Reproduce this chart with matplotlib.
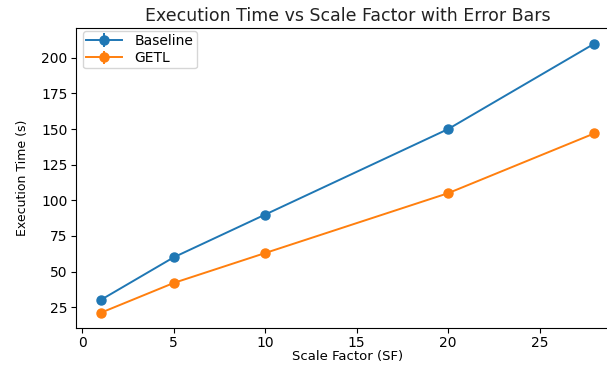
import matplotlib
matplotlib.use("Agg")
import matplotlib.pyplot as plt

scale_factors = [1, 5, 10, 20, 28]
baseline = [30, 60, 90, 150, 210]
baseline_err = [1.5, 1.5, 1.5, 1.5, 1.5]
getl = [21, 42, 63, 105, 147]
getl_err = [1.0, 1.0, 1.0, 1.0, 1.0]

fig = plt.figure(figsize=(6.07, 3.66), dpi=100)
ax = fig.add_axes([0.125, 0.104, 0.895, 0.82])

ax.errorbar(scale_factors, baseline, yerr=baseline_err, fmt='-o', color='#1f77b4',
            markersize=6.5, linewidth=1.4, label='Baseline')
ax.errorbar(scale_factors, getl, yerr=getl_err, fmt='-o', color='#ff7f0e',
            markersize=6.5, linewidth=1.4, label='GETL')

ax.set_title('Execution Time vs Scale Factor with Error Bars', fontsize=12.5, pad=5,
             color='#222222')
ax.set_xlabel('Scale Factor (SF)', fontsize=9.5, labelpad=0)
ax.set_ylabel('Execution Time (s)', fontsize=9, labelpad=9)
ax.tick_params(labelsize=10, pad=2.5)
ax.legend(loc='upper left', fontsize=10, labelspacing=0.25, borderpad=0.22,
          handlelength=2.6, handletextpad=0.9, borderaxespad=0.0,
          bbox_to_anchor=(0.013, 0.99))

fig.savefig('out.png', dpi=100)
